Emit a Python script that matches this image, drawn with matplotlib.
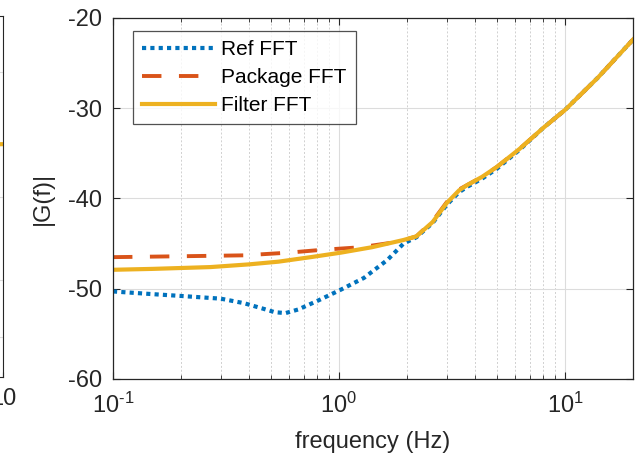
import numpy as np
import matplotlib
matplotlib.use("Agg")
import matplotlib.pyplot as plt
from matplotlib.ticker import LogLocator, NullFormatter

plt.rcParams['font.family'] = ['Liberation Sans', 'DejaVu Sans']
plt.rcParams['axes.unicode_minus'] = False
plt.rcParams['mathtext.fontset'] = 'custom'
plt.rcParams['mathtext.rm'] = 'Liberation Sans'
plt.rcParams['mathtext.it'] = 'Liberation Sans'

# frequency points (Hz) and magnitudes
f_ref = [0.1, 0.15, 0.2, 0.3, 0.38, 0.46, 0.52, 0.58, 0.66, 0.81, 1.02, 1.29, 1.64, 1.93,
         2.2, 2.6, 3.0, 3.4, 3.7, 4.3, 5.0, 6.3, 8.0, 10.0, 14.0, 20.0]
g_ref = [-50.3, -50.6, -50.8, -51.1, -51.6, -52.2, -52.6, -52.7, -52.3, -51.3, -50.1, -48.8,
         -46.8, -45.0, -44.3, -42.7, -40.7, -39.3, -38.7, -37.8, -36.7, -34.6, -32.2, -30.2,
         -26.6, -22.4]

f_pkg = [0.1, 0.2, 0.38, 0.6, 0.83, 1.25, 1.82, 2.2, 2.6, 3.0, 3.4, 3.7, 4.3, 5.0, 6.3, 8.0,
         10.0, 14.0, 20.0]
g_pkg = [-46.5, -46.4, -46.3, -46.0, -45.7, -45.4, -44.8, -44.2, -42.5, -40.4, -39.0, -38.5,
         -37.6, -36.5, -34.5, -32.2, -30.2, -26.6, -22.4]

f_flt = [0.1, 0.15, 0.27, 0.4, 0.54, 0.75, 1.02, 1.4, 1.93, 2.2, 2.6, 3.0, 3.4, 3.7, 4.3, 5.0,
         6.3, 8.0, 10.0, 14.0, 20.0]
g_flt = [-47.9, -47.8, -47.6, -47.3, -47.0, -46.5, -46.0, -45.4, -44.6, -44.2, -42.6, -40.5,
         -39.1, -38.5, -37.6, -36.5, -34.5, -32.2, -30.2, -26.6, -22.4]

x_ticks = [0.1, 1, 10]
x_ticklabels = [r'$\mathrm{10^{\text{-}1}}$', r'$\mathrm{10^{0}}$', r'$\mathrm{10^{1}}$']
y_ticks = [-60, -50, -40, -30, -20]

blue = '#0072BD'
orange = '#D95319'
yellow = '#EDB120'
dark = '#262626'

fig = plt.figure(figsize=(6.43, 4.61), dpi=100)

# the neighbouring subplot, mostly outside the picture
ax0 = fig.add_axes([-0.3, 0.1822, 0.3047, 0.7831])
ax0.set_xlim(0, 10)
ax0.set_ylim(0, 1)
ax0.plot([8, 10], [0.643, 0.645], color=yellow, lw=3)
ax0.set_xticks([10])
ax0.set_xticklabels(['10'])
ax0.set_yticks([0.111, 0.269, 0.499, 0.845])
ax0.set_yticklabels([])
ax0.grid(True, color='#dcdcdc', lw=0.8)
ax0.tick_params(direction='in', labelsize=17, colors=dark, pad=8)
for s in ax0.spines.values():
    s.set_color(dark)

ax = fig.add_axes([0.1757, 0.1779, 0.8087, 0.7831])
ax.semilogx(f_ref, g_ref, color=blue, lw=3.0, linestyle=(0, (1, 1)), label='Ref FFT')
ax.semilogx(f_pkg, g_pkg, color=orange, lw=2.8, linestyle=(0, (5, 4.5)), label='Package FFT')
ax.semilogx(f_flt, g_flt, color=yellow, lw=3.0, label='Filter FFT')

ax.set_xlim(0.1, 20)
ax.set_ylim(-60, -20)
ax.set_yticks(y_ticks)
ax.set_xticks(x_ticks)
ax.set_xticklabels(x_ticklabels)
ax.xaxis.set_minor_locator(LogLocator(base=10, subs=np.arange(2, 10)))
ax.xaxis.set_minor_formatter(NullFormatter())

ax.grid(True, which='major', color='#dcdcdc', lw=0.8)
ax.grid(True, which='minor', axis='x', color='#d0d0d0', lw=0.7, linestyle=(0, (2, 2)))
ax.set_axisbelow(True)

ax.tick_params(which='both', direction='in', top=True, right=True, colors=dark,
               labelsize=17)
ax.tick_params(axis='x', pad=10)
ax.tick_params(axis='y', pad=8)
ax.tick_params(which='major', length=5)
ax.tick_params(which='minor', length=3)
for s in ax.spines.values():
    s.set_color(dark)
    s.set_linewidth(0.9)

ax.set_xlabel('frequency (Hz)', fontsize=17, color=dark, labelpad=9)
ax.set_ylabel('|G(f)|', fontsize=17, color=dark, labelpad=10)

leg = ax.legend(loc='upper left', bbox_to_anchor=(0.038, 0.964), borderaxespad=0,
                fontsize=15, frameon=True, fancybox=False, handlelength=3.5,
                handletextpad=0.3, labelspacing=0.42, borderpad=0.45)
leg.get_frame().set_edgecolor(dark)
leg.get_frame().set_linewidth(0.9)

fig.savefig('out.png', dpi=100)
